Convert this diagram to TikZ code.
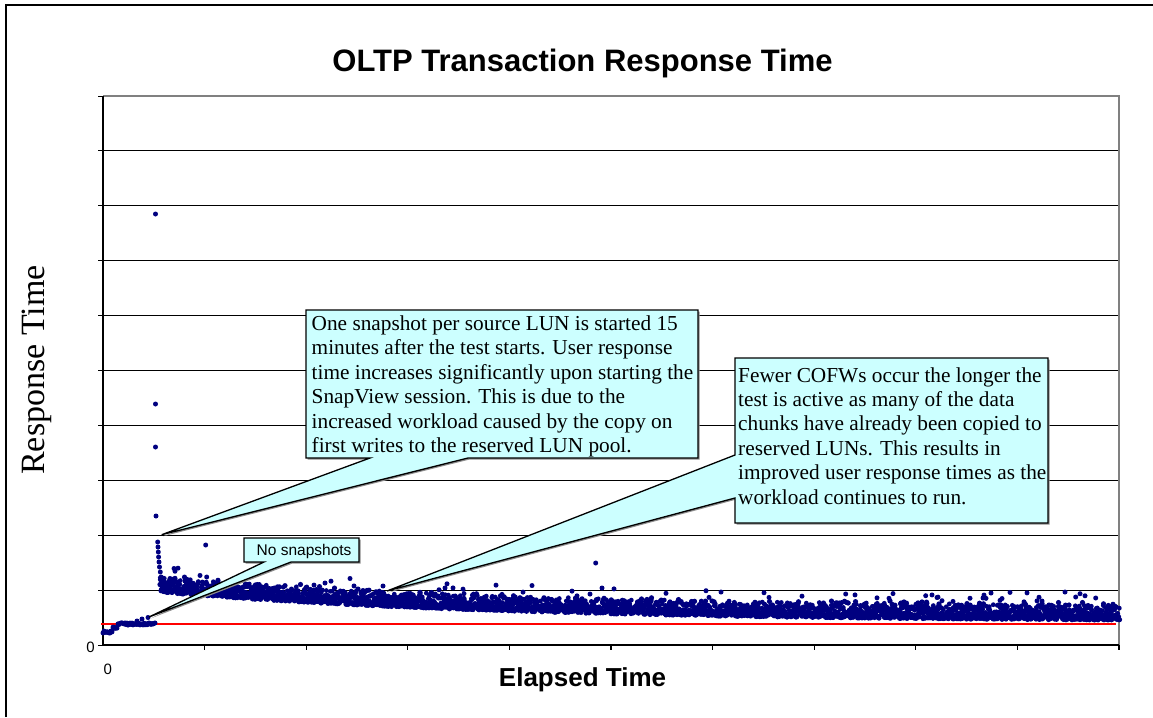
\documentclass[tikz,border=0pt]{standalone}
\usepackage{fontspec}
\setmainfont{Liberation Serif}
\newfontfamily\arial{Liberation Sans}
\definecolor{navy}{HTML}{000080}
\definecolor{callfill}{HTML}{CCFFFF}
\definecolor{axgray}{HTML}{808080}
\begin{document}
\begin{tikzpicture}[x=1pt,y=-1pt,
  grid/.style={black,line width=0.9pt},
  callout/.style={draw=black,line width=1.3pt,fill=callfill,line join=miter},
  calloutshadow/.style={fill=black!45,draw=none},
  datapt/.style={fill=navy},
  calltext/.style={font=\fontsize{21.3}{24.4}\selectfont,align=left,inner sep=0pt,anchor=north west},
  ticklbl/.style={font=\arial\fontsize{15}{15}\selectfont,inner sep=0pt},
]
\useasboundingbox (0,0) rectangle (1153,717);
\fill[white] (0,0) rectangle (1153,717);

% chart frame
\draw[line width=1.4pt] (6,717) -- (6,5) -- (1153,5);

% title
\node[font=\arial\bfseries\fontsize{31}{31}\selectfont,anchor=base,inner sep=0pt] (title) at (582.5,71.5) {OLTP Transaction Response Time};

% horizontal gridlines and value-axis ticks
\foreach \k in {1,...,9} \draw[grid] (103,{645-54.9*\k}) -- (1119,{645-54.9*\k});
\foreach \k in {0,...,10} \draw[line width=1pt] (98,{645-54.9*\k}) -- (103,{645-54.9*\k});

% plot area border and axes
\draw[axgray,line width=2pt] (103,96) -- (1119,96) -- (1119,650);
\draw[black,line width=1.5pt] (103,96) -- (103,645) -- (1119,645);
\foreach \k in {1,...,10} \draw[line width=1.2pt] ({103+101.6*\k},645) -- ++(0,5);

% baseline response time
\draw[red,line width=1.5pt] (101,624) -- (1116,624);

% measured response times
\pgfmathsetseed{4711}
\foreach \i in {103,...,155}{
  \pgfmathsetmacro\yy{(\i<113 ? 632 : (\i<118 ? 627.5 : 624)) + 1.1*rand}
  \fill[datapt] (\i,\yy) circle[radius=2.5pt];
}
\foreach \p in {(137,621),(142,619),(148,617.5),
  (155.5,214),(155.5,404),(155.5,447),(156,516),(157.7,542),(158,547),(158.3,552),
  (158.6,557),(159,562),(159.5,567),(160.3,572),(161.2,577),(162,580),(163,582),(164,584),
  (205.7,545),(595.7,563),(185,581),(178,582),(206.7,577),(325,583),(306.7,587),
  (445,588),(438,596),(845.7,594),(925.7,595.7),(1065,592),(1075.7,597),(1095.7,598),
  (983,598),(942,600.7)}
  \fill[datapt] \p circle[radius=2.5pt];
\foreach \i in {160,...,1119}{
  \pgfmathsetmacro\cy{585+30*(1-exp(-(\i-160)/350))}
  \pgfmathsetmacro\ya{\cy+7-18*rnd*rnd}
  \pgfmathsetmacro\yb{\cy+7-18*rnd*rnd}
  \pgfmathsetmacro\yd{\cy+6-14*rnd}
  \fill[datapt] (\i,\ya) circle[radius=2.6pt];
  \fill[datapt] (\i+0.5,\yb) circle[radius=2.6pt];
  \fill[datapt] (\i+0.3,\yd) circle[radius=2.4pt];
  \pgfmathsetmacro\pr{rnd}
  \pgfmathsetmacro\lim{\i>880 ? 0.14 : 0.07}
  \ifdim\pr pt<\lim pt
    \pgfmathsetmacro\yc{\cy-6-14*rnd}
    \fill[datapt] (\i,\yc) circle[radius=2.5pt];
  \fi
}

% callouts
\fill[calloutshadow,shift={(1.5,1.5)}] (306,310) -- (698,310) -- (698,458) -- (468,458) -- (161.7,534.7) -- (370,458) -- (306,458) -- cycle;
\draw[callout] (306,310) -- (698,310) -- (698,458) -- (468,458) -- (161.7,534.7) -- (370,458) -- (306,458) -- cycle;
\node[calltext] (note1) at (311.5,315.5) {One snapshot per source LUN is started 15\\minutes after the test starts. User response\\time increases significantly upon starting the\\SnapView session. This is due to the\\increased workload caused by the copy on\\first writes to the reserved LUN pool.};

\fill[calloutshadow,shift={(1.5,1.5)}] (244,538) -- (359,538) -- (359,562) -- (291,562) -- (149,617) -- (264,562) -- (244,562) -- cycle;
\draw[callout] (244,538) -- (359,538) -- (359,562) -- (291,562) -- (149,617) -- (264,562) -- (244,562) -- cycle;
\node[font=\arial\fontsize{15.5}{15.5}\selectfont,anchor=base west,inner sep=0pt] (note2) at (256.5,555.5) {No snapshots};

\fill[calloutshadow,shift={(1.5,1.5)}] (735,358) -- (1048,358) -- (1048,523) -- (735,523) -- (735,498) -- (387,591) -- (735,455) -- cycle;
\draw[callout] (735,358) -- (1048,358) -- (1048,523) -- (735,523) -- (735,498) -- (387,591) -- (735,455) -- cycle;
\node[calltext] (note3) at (738,367.2) {Fewer COFWs occur the longer the\\test is active as many of the data\\chunks have already been copied to\\reserved LUNs. This results in\\improved user response times as the\\workload continues to run.};

% axis labels
\node[ticklbl] (y0) at (90.5,647) {0};
\node[ticklbl] (x0) at (107.7,669) {0};
\node[font=\arial\bfseries\fontsize{26}{26}\selectfont,anchor=base,inner sep=0pt] (xlab) at (582.5,686.5) {Elapsed Time};
\node[font=\fontsize{34}{34}\selectfont,rotate=90,anchor=base,inner sep=0pt] (ylab) at (44,370) {Response Time};
\end{tikzpicture}
\end{document}
